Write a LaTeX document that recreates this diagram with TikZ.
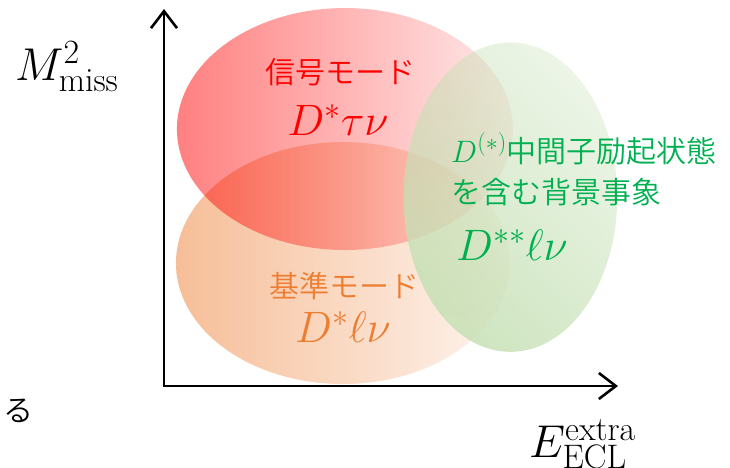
\RequirePackage{fix-cm}
\documentclass[tikz,border=0pt]{standalone}
\usepackage{fontspec}
\newfontfamily\jp{Noto Sans CJK JP}[UprightFont={* DemiLight}]
\usetikzlibrary{arrows.meta,fadings}
\DeclareMathSizes{46}{46}{34}{26}
\DeclareMathSizes{44}{44}{32}{24}
\DeclareMathSizes{31}{31}{24}{18}
\definecolor{sigred}{RGB}{255,0,0}
\definecolor{normorg}{RGB}{237,125,49}
\definecolor{bggreen}{RGB}{0,176,80}
\definecolor{palegreen}{RGB}{197,224,180}
\tikzfading[name=fadeLR, left color=transparent!50, right color=transparent!92]
\tikzfading[name=fadeG, bottom color=transparent!15, top color=transparent!68]
\tikzset{
  axisline/.style={line width=2.6pt, {Straight Barb[length=17pt,width=26pt]}-{Straight Barb[length=17pt,width=26pt]}},
  jplabel/.style={inner sep=0pt, font=\jp\fontsize{30}{36}\selectfont},
  mathlabel/.style={inner sep=0pt, font=\fontsize{44}{50}\selectfont},
  axislabel/.style={inner sep=0pt, font=\fontsize{46}{50}\selectfont},
}
\begin{document}
\begin{tikzpicture}[x=1pt,y=-1pt]
\useasboundingbox (0,0) rectangle (730,467);
% ellipses
\fill[normorg, path fading=fadeLR] (343,263) ellipse [x radius=167, y radius=121];
\fill[sigred, path fading=fadeLR] (345,129) ellipse [x radius=168, y radius=121];
\fill[palegreen, path fading=fadeG, fading angle=-35] (511,197) ellipse [x radius=107, y radius=155];
% axes
\coordinate (O) at (164,386);
\coordinate (ytop) at (164,9);
\coordinate (xend) at (618,386);
\draw[axisline] (ytop) -- (O) -- (xend);
% axis labels
\node[axislabel, anchor=base west] (ylab) at (15,80) {$M^2_{\mathrm{miss}}$};
\node[axislabel, anchor=base west] (xlab) at (529,457) {$E^{\mathrm{extra}}_{\mathrm{ECL}}$};
\node[jplabel] (ru) at (18,411) {る};
% signal
\node[jplabel, text=sigred] (sigjp) at (340,72) {信号モード};
\node[mathlabel, text=sigred, anchor=base] (sigm) at (338,135) {$D^*\tau\nu$};
% normalization
\node[jplabel, text=normorg] (normjp) at (344,286) {基準モード};
\node[mathlabel, text=normorg, anchor=base] (normm) at (343,342) {$D^*\ell\nu$};
% background
\node[jplabel, text=bggreen, anchor=base west] (bg1) at (451,162) {{\fontsize{31}{34}\selectfont$D^{(*)}$}中間子励起状態};
\node[jplabel, text=bggreen, anchor=base west] (bg2) at (451,203) {を含む背景事象};
\node[mathlabel, text=bggreen, anchor=base west] (bgm) at (456,260) {$D^{**}\ell\nu$};
\end{tikzpicture}
\end{document}
